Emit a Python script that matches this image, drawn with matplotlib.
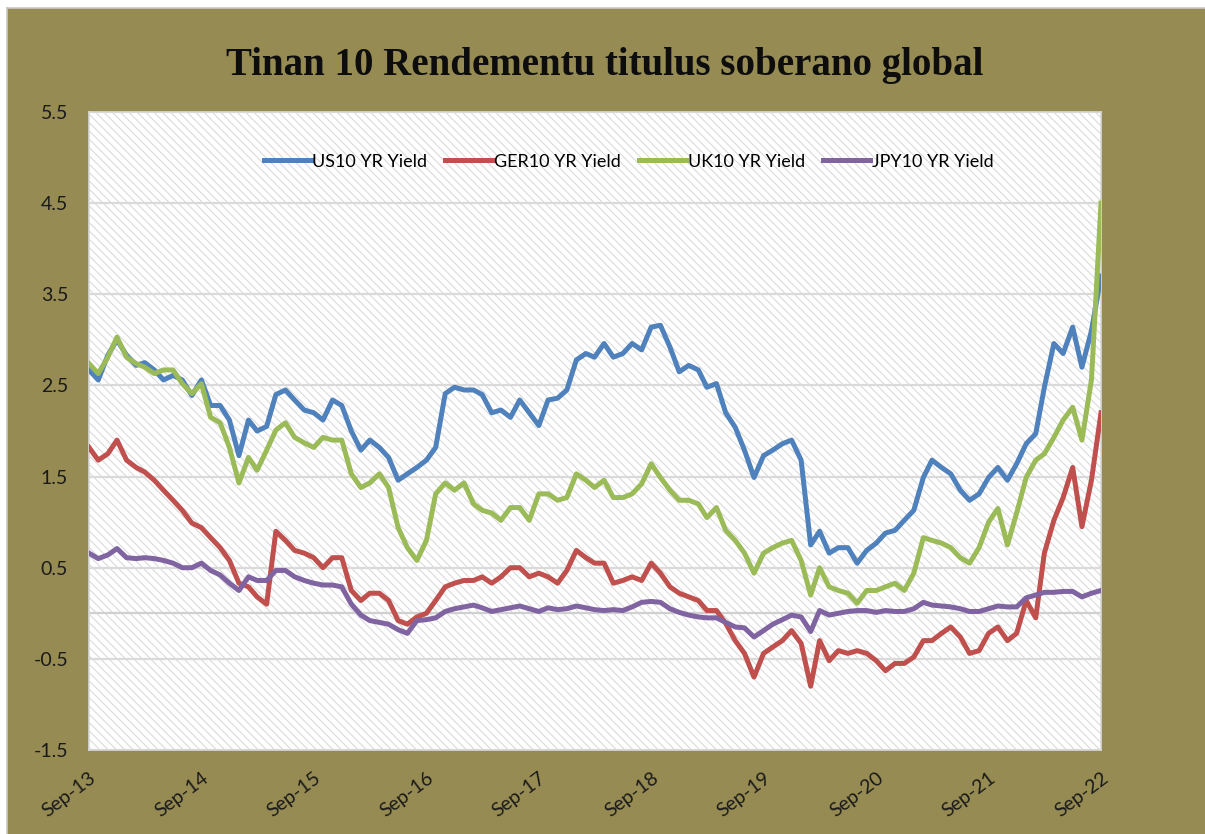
import numpy as np
import pandas as pd
import matplotlib
matplotlib.use("Agg")
import matplotlib.pyplot as plt
from matplotlib.patches import Rectangle

# monthly readings, Sep-2013 .. Sep-2022
dates = pd.date_range("2013-09-01", "2022-09-01", freq="MS")

us10 = [2.67, 2.56, 2.83, 3.00,
        2.83, 2.72, 2.75, 2.67, 2.56, 2.61, 2.56, 2.39, 2.56, 2.28, 2.28, 2.12,
        1.73, 2.12, 2.00, 2.05, 2.40, 2.45, 2.34, 2.23, 2.20, 2.12, 2.34, 2.28,
        2.00, 1.79, 1.90, 1.82, 1.71, 1.46, 1.53, 1.60, 1.68, 1.82, 2.41, 2.48,
        2.45, 2.45, 2.40, 2.20, 2.23, 2.15, 2.34, 2.20, 2.06, 2.34, 2.36, 2.45,
        2.78, 2.85, 2.81, 2.96, 2.81, 2.85, 2.96, 2.89, 3.14, 3.16, 2.92, 2.65,
        2.72, 2.67, 2.48, 2.52, 2.20, 2.04, 1.79, 1.49, 1.73, 1.79, 1.86, 1.90,
        1.68, 0.75, 0.90, 0.66, 0.72, 0.72, 0.55, 0.69, 0.77, 0.88, 0.91, 1.02,
        1.13, 1.49, 1.68, 1.60, 1.53, 1.35, 1.24, 1.31, 1.49, 1.60, 1.46, 1.64,
        1.86, 1.97, 2.48, 2.96, 2.85, 3.14, 2.70, 3.10, 3.70]

ger10 = [1.82, 1.68, 1.75, 1.90,
         1.68, 1.60, 1.55, 1.46, 1.35, 1.24, 1.13, 0.99, 0.94, 0.83, 0.72, 0.58,
         0.33, 0.29, 0.18, 0.10, 0.90, 0.80, 0.69, 0.66, 0.61, 0.50, 0.61, 0.61,
         0.25, 0.14, 0.22, 0.22, 0.14, -0.08, -0.12, -0.04, 0.00, 0.14, 0.29, 0.33,
         0.36, 0.36, 0.40, 0.33, 0.40, 0.50, 0.50, 0.40, 0.44, 0.40, 0.33, 0.47,
         0.69, 0.61, 0.55, 0.55, 0.33, 0.36, 0.40, 0.36, 0.55, 0.44, 0.29, 0.22,
         0.18, 0.14, 0.03, 0.03, -0.11, -0.30, -0.44, -0.70, -0.44, -0.37, -0.30, -0.19,
         -0.33, -0.80, -0.30, -0.52, -0.41, -0.44, -0.41, -0.44, -0.52, -0.63, -0.55, -0.55,
         -0.48, -0.30, -0.30, -0.22, -0.15, -0.26, -0.44, -0.41, -0.22, -0.15, -0.30, -0.22,
         0.14, -0.05, 0.66, 1.02, 1.27, 1.60, 0.95, 1.46, 2.20]

uk10 = [2.74, 2.63, 2.81, 3.03,
        2.81, 2.74, 2.70, 2.63, 2.67, 2.67, 2.52, 2.41, 2.52, 2.15, 2.09, 1.82,
        1.43, 1.71, 1.57, 1.79, 2.01, 2.09, 1.93, 1.87, 1.82, 1.93, 1.90, 1.90,
        1.53, 1.38, 1.43, 1.53, 1.38, 0.94, 0.72, 0.58, 0.80, 1.31, 1.43, 1.35,
        1.43, 1.20, 1.13, 1.10, 1.02, 1.16, 1.16, 1.02, 1.31, 1.31, 1.24, 1.27,
        1.53, 1.46, 1.38, 1.46, 1.27, 1.27, 1.31, 1.42, 1.64, 1.49, 1.35, 1.24,
        1.24, 1.20, 1.05, 1.16, 0.91, 0.80, 0.66, 0.44, 0.66, 0.72, 0.77, 0.80,
        0.58, 0.20, 0.50, 0.29, 0.25, 0.22, 0.11, 0.25, 0.25, 0.29, 0.33, 0.25,
        0.44, 0.83, 0.80, 0.77, 0.72, 0.61, 0.55, 0.72, 1.00, 1.15, 0.75, 1.10,
        1.49, 1.68, 1.75, 1.93, 2.12, 2.26, 1.90, 2.56, 4.50]

jpy10 = [0.66, 0.60, 0.64, 0.71,
         0.61, 0.60, 0.61, 0.60, 0.58, 0.55, 0.50, 0.50, 0.55, 0.47, 0.42, 0.33,
         0.25, 0.40, 0.36, 0.36, 0.47, 0.47, 0.40, 0.36, 0.33, 0.31, 0.31, 0.29,
         0.10, -0.02, -0.08, -0.10, -0.12, -0.18, -0.22, -0.08, -0.07, -0.05, 0.02, 0.05,
         0.07, 0.09, 0.06, 0.02, 0.04, 0.06, 0.08, 0.05, 0.02, 0.06, 0.04, 0.05,
         0.08, 0.06, 0.04, 0.03, 0.04, 0.03, 0.07, 0.12, 0.13, 0.12, 0.05, 0.01,
         -0.02, -0.04, -0.05, -0.05, -0.10, -0.15, -0.16, -0.26, -0.19, -0.12, -0.07, -0.02,
         -0.04, -0.20, 0.03, -0.02, 0.00, 0.02, 0.03, 0.03, 0.01, 0.03, 0.02, 0.02,
         0.05, 0.12, 0.09, 0.08, 0.07, 0.05, 0.02, 0.02, 0.05, 0.08, 0.07, 0.07,
         0.17, 0.20, 0.23, 0.23, 0.24, 0.24, 0.18, 0.22, 0.25]

labels = ["US10 YR Yield", "GER10 YR Yield", "UK10 YR Yield", "JPY10 YR Yield"]
colors = ["#4F81BD", "#C0504D", "#9BBB59", "#8064A2"]
yticks = [-1.5, -0.5, 0.5, 1.5, 2.5, 3.5, 4.5, 5.5]
tick_years = pd.date_range("2013-09-01", "2022-09-01", freq="12MS")

plt.rcParams["font.family"] = ["Lato", "DejaVu Sans"]
plt.rcParams["hatch.linewidth"] = 0.7

olive = "#968B52"
fig = plt.figure(figsize=(12.05, 8.34), dpi=100, facecolor=olive)
# thin white margin on the left and top, like the pasted screenshot
fig.add_artist(Rectangle((0, 0), 7 / 1205, 1, transform=fig.transFigure,
                         facecolor="white", edgecolor="none", zorder=-5))
fig.add_artist(Rectangle((0, 1 - 8 / 834), 1, 8 / 834, transform=fig.transFigure,
                         facecolor="white", edgecolor="none", zorder=-5))
fig.add_artist(plt.Line2D([7 / 1205, 7 / 1205], [0, 1 - 8 / 834], transform=fig.transFigure,
                          color="#c8c8c8", linewidth=1.2, zorder=-4))
fig.add_artist(plt.Line2D([7 / 1205, 1], [1 - 8 / 834, 1 - 8 / 834], transform=fig.transFigure,
                          color="#c8c8c8", linewidth=1.2, zorder=-4))

ax = fig.add_axes([89 / 1205, 1 - 750 / 834, 1012 / 1205, 638 / 834])
ax.set_facecolor("white")
ax.add_patch(Rectangle((0, 0), 1, 1, transform=ax.transAxes, facecolor="white",
                       edgecolor="#d6d6d6", hatch="\\\\\\\\", linewidth=0, zorder=0))

for vals, lab, c in zip([us10, ger10, uk10, jpy10], labels, colors):
    ax.plot(dates, vals, color=c, linewidth=3.6, label=lab, zorder=3,
            solid_joinstyle="round")

ax.set_ylim(-1.5, 5.5)
ax.set_xlim(dates[0], dates[-1])
ax.set_yticks(yticks)
ax.set_yticklabels([f"{v:g}" for v in yticks])
ax.set_xticks(tick_years)
ax.set_xticklabels([d.strftime("%b-%y") for d in tick_years], rotation=37,
                   ha="right", va="top", rotation_mode="anchor")
ax.grid(axis="y", color="#dadada", linewidth=1.6, zorder=1)
ax.axhline(0, color="#d0d0d0", linewidth=1.6, zorder=1)
ax.set_axisbelow(True)
for s in ax.spines.values():
    s.set_color("#d9d9d9")
    s.set_linewidth(1.2)
ax.tick_params(axis="both", length=0, labelsize=14, colors="#1a1a1a")
ax.tick_params(axis="y", pad=15)
ax.tick_params(axis="x", pad=14)

ax.legend(loc="center", bbox_to_anchor=(0.533, 0.922), ncol=4, frameon=False,
          fontsize=13, handlelength=2.6, columnspacing=1.0, handletextpad=0.1)

fig.text(0.502, 0.922, "Tinan 10 Rendementu titulus soberano global",
         ha="center", va="center", fontsize=28, fontweight="bold",
         family=["Liberation Serif", "DejaVu Serif"], color="#0d0d0d")

fig.savefig("out.png", dpi=100, facecolor=fig.get_facecolor())
